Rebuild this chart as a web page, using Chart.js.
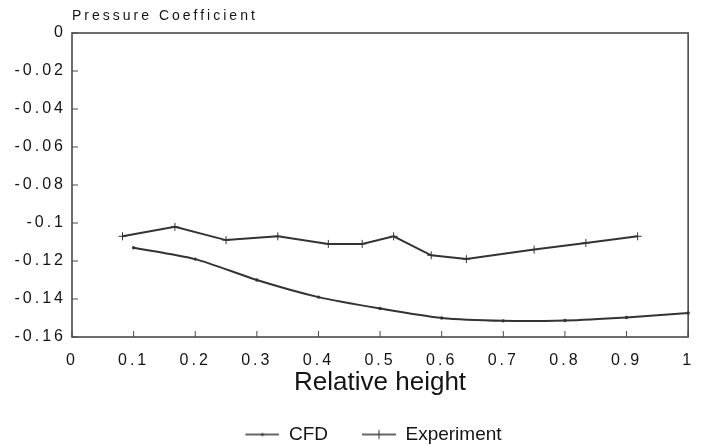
<!DOCTYPE html>
<html>
<head>
<meta charset="utf-8">
<script src="https://cdn.jsdelivr.net/npm/chart.js@4.4.1/dist/chart.umd.min.js"></script>
<style>
    html, body { margin: 0; padding: 0; background: #fff; }
</style>
</head>
<body>
<canvas id="pressureChart" width="702" height="446"></canvas>
<script>
// values
var cfdHeight = [0.1, 0.2, 0.3, 0.4, 0.5, 0.6, 0.7, 0.8, 0.9, 1.0];
var cfdCp = [-0.113, -0.119, -0.130, -0.139, -0.145, -0.150, -0.1515, -0.1513, -0.1497, -0.1474];

var expHeight = [0.082, 0.167, 0.25, 0.334, 0.416, 0.471, 0.522, 0.583, 0.64, 0.75, 0.834, 0.918];
var expCp = [-0.107, -0.102, -0.109, -0.107, -0.111, -0.111, -0.107, -0.117, -0.119, -0.114, -0.1105, -0.107];

var xTickValues = [0, 0.1, 0.2, 0.3, 0.4, 0.5, 0.6, 0.7, 0.8, 0.9, 1];
var xTickLabels = ['0', '0.1', '0.2', '0.3', '0.4', '0.5', '0.6', '0.7', '0.8', '0.9', '1'];
var yTickValues = [-0.16, -0.14, -0.12, -0.1, -0.08, -0.06, -0.04, -0.02, 0];
var yTickLabels = ['-0.16', '-0.14', '-0.12', '-0.1', '-0.08', '-0.06', '-0.04', '-0.02', '0'];

var seriesLabels = ['CFD', 'Experiment'];

var lineColor = '#333333';
var frameColor = '#4a4a4a';
var textColor = '#141414';
var fontFamily = "'Liberation Sans', Arial, sans-serif";

function toPoints(xs, ys) {
    return xs.map(function (x, i) { return { x: x, y: ys[i] }; });
}

// small line+marker pictures for the legend
function legendSample(withCross) {
    var c = document.createElement('canvas');
    c.width = 41;
    c.height = 12;
    var g = c.getContext('2d');
    g.strokeStyle = lineColor;
    g.lineWidth = 1.5;
    g.beginPath();
    g.moveTo(7, 6);
    g.lineTo(41, 6);
    g.stroke();
    if (withCross) {
        g.lineWidth = 1;
        g.beginPath();
        g.moveTo(24, 1.5);
        g.lineTo(24, 10.5);
        g.stroke();
    } else {
        g.fillStyle = lineColor;
        g.beginPath();
        g.arc(24, 6, 1.6, 0, Math.PI * 2);
        g.fill();
    }
    return c;
}
var legendSamples = [legendSample(false), legendSample(true)];

// box round the plot with short inward ticks
var framePlugin = {
    id: 'frame',
    beforeDatasetsDraw: function (chart) {
        var ctx = chart.ctx;
        var a = chart.chartArea;
        var xs = chart.scales.x;
        var ys = chart.scales.y;
        ctx.save();
        ctx.strokeStyle = frameColor;
        ctx.lineWidth = 1.6;
        ctx.strokeRect(a.left, a.top, a.right - a.left, a.bottom - a.top);
        ctx.lineWidth = 1;
        ctx.beginPath();
        xTickValues.forEach(function (v) {
            var px = xs.getPixelForValue(v);
            ctx.moveTo(px, a.bottom);
            ctx.lineTo(px, a.bottom - 6);
        });
        yTickValues.forEach(function (v) {
            var py = ys.getPixelForValue(v);
            ctx.moveTo(a.left, py);
            ctx.lineTo(a.left + 6, py);
        });
        ctx.stroke();
        ctx.restore();
    },
    // tick labels and the top title are drawn after the datasets, with wide spacing
    afterDatasetsDraw: function (chart) {
        chart.ctx.letterSpacing = '3px';
    },
    afterDraw: function (chart) {
        chart.ctx.letterSpacing = '0px';
    }
};

var chartElement = document.getElementById('pressureChart').getContext('2d');

var chartObject = new Chart(chartElement, {
    type: 'line',
    data: {
        datasets: [{
            label: seriesLabels[0],
            data: toPoints(cfdHeight, cfdCp),
            xAxisID: 'x',
            yAxisID: 'y',
            borderColor: lineColor,
            backgroundColor: lineColor,
            borderWidth: 2,
            tension: 0.25,
            pointStyle: 'circle',
            pointRadius: 1.7,
            pointBorderWidth: 0,
            clip: 4
        }, {
            label: seriesLabels[1],
            data: toPoints(expHeight, expCp),
            xAxisID: 'x',
            yAxisID: 'y',
            borderColor: lineColor,
            backgroundColor: lineColor,
            borderWidth: 2,
            tension: 0,
            pointStyle: 'cross',
            pointRadius: 4,
            pointBorderWidth: 1,
            clip: 4
        }]
    },
    options: {
        responsive: false,
        animation: false,
        layout: {
            padding: { left: 48, right: 10, top: 0, bottom: 0 }
        },
        scales: {
            x: {
                type: 'linear',
                position: 'bottom',
                min: 0,
                max: 1,
                afterBuildTicks: function (scale) {
                    scale.ticks = xTickValues.map(function (v) { return { value: v }; });
                },
                afterFit: function (scale) { scale.height = 61; },
                grid: { display: false, drawTicks: false },
                border: { display: false },
                ticks: {
                    z: 1,
                    padding: 9.4,
                    color: textColor,
                    font: { family: fontFamily, size: 16, lineHeight: 1.8 },
                    maxRotation: 0,
                    callback: function (value, index) { return xTickLabels[index]; }
                },
                title: {
                    display: true,
                    text: 'Relative height',
                    color: textColor,
                    font: { family: fontFamily, size: 26 },
                    padding: { top: 0, bottom: 0 }
                }
            },
            x2: {
                type: 'linear',
                position: 'top',
                min: 0,
                max: 1,
                afterFit: function (scale) { scale.height = 33; },
                grid: { display: false, drawTicks: false, z: 1 },
                border: { display: false },
                ticks: { display: false },
                title: {
                    display: true,
                    text: 'Pressure Coefficient',
                    align: 'start',
                    color: textColor,
                    font: { family: fontFamily, size: 14 },
                    padding: { top: 8, bottom: 0 }
                }
            },
            y: {
                type: 'linear',
                position: 'left',
                min: -0.16,
                max: 0,
                afterBuildTicks: function (scale) {
                    scale.ticks = yTickValues.map(function (v) { return { value: v }; });
                },
                afterFit: function (scale) { scale.width = 24; },
                grid: { display: false, drawTicks: false },
                border: { display: false },
                ticks: {
                    z: 1,
                    // mirrored + far alignment keeps the labels right-aligned left of the axis, unclipped
                    mirror: true,
                    crossAlign: 'far',
                    padding: -42.5,
                    color: textColor,
                    font: { family: fontFamily, size: 16 },
                    callback: function (value, index) { return yTickLabels[index]; }
                }
            }
        },
        plugins: {
            tooltip: { enabled: false },
            legend: {
                position: 'bottom',
                maxHeight: 48,
                labels: {
                    usePointStyle: true,
                    pointStyleWidth: 41,
                    padding: 27,
                    color: textColor,
                    font: { family: fontFamily, size: 19 },
                    generateLabels: function (chart) {
                        var items = Chart.defaults.plugins.legend.labels.generateLabels(chart);
                        items.forEach(function (item, i) { item.pointStyle = legendSamples[i]; });
                        return items;
                    }
                }
            }
        }
    },
    plugins: [framePlugin]
});
</script>
</body>
</html>
